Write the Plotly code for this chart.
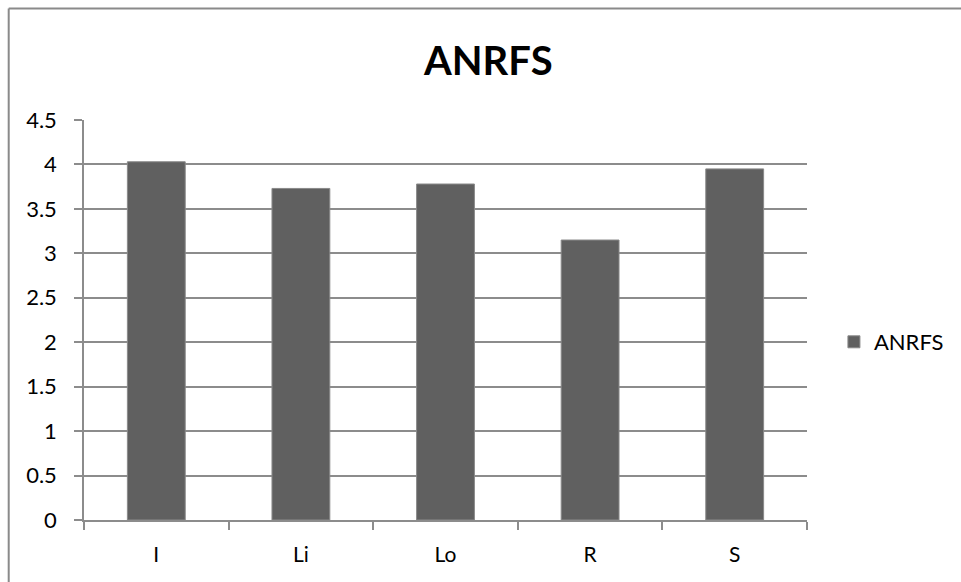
import plotly.graph_objects as go

categories = ["I", "Li", "Lo", "R", "S"]
values = [4.03, 3.73, 3.78, 3.15, 3.95]
series_name = "ANRFS"
title_text = "ANRFS"
y_ticks = [0, 0.5, 1, 1.5, 2, 2.5, 3, 3.5, 4, 4.5]
y_tick_labels = ["0", "0.5", "1", "1.5", "2", "2.5", "3", "3.5", "4", "4.5"]

W, H = 961, 582
L, R, T, B = 84, 152, 120, 62
pw, ph = W - L - R, H - T - B

def px_x(x):
    return (x - L) / pw

def px_y(y):
    return (H - B - y) / ph

FONT = "Lato"
GRID = "#8c8c8c"

fig = go.Figure()
fig.add_trace(go.Bar(
    x=categories, y=values, name=series_name,
    marker=dict(color="#606060", line=dict(color="#8a8a8a", width=1)),
    width=0.4,
))

fig.update_layout(
    width=W, height=H,
    margin=dict(l=L, r=R, t=T, b=B, pad=0),
    paper_bgcolor="white", plot_bgcolor="white",
    font=dict(family=FONT, size=21, color="black"),
    showlegend=True,
    legend=dict(x=px_x(836), y=px_y(342), xanchor="left", yanchor="middle",
                font=dict(size=22, family=FONT, color="black"),
                bgcolor="rgba(0,0,0,0)", itemwidth=30),
    xaxis=dict(
        showline=True, linecolor=GRID, linewidth=1.5,
        ticks="outside", ticklen=8, tickcolor=GRID, tickwidth=1.5,
        tickson="boundaries", showgrid=False,
        tickfont=dict(size=21, family=FONT, color="black"),
        ticklabelstandoff=15,
        range=[-0.5, 4.5],
    ),
    yaxis=dict(
        range=[0, 4.5], tickvals=y_ticks, ticktext=y_tick_labels,
        showline=True, linecolor=GRID, linewidth=1.5,
        ticks="outside", ticklen=8, tickcolor=GRID, tickwidth=1.5,
        showgrid=True, gridcolor=GRID, gridwidth=1.5,
        zeroline=False,
        tickfont=dict(size=22, family=FONT, color="black"),
        ticklabelstandoff=13,
    ),
    annotations=[dict(
        text="<b>" + title_text + "</b>", x=px_x(489), y=px_y(60),
        xref="paper", yref="paper",
        xanchor="center", yanchor="middle", showarrow=False,
        font=dict(size=40, family=FONT, color="black"),
    )],
    shapes=[
        dict(type="line", xref="paper", yref="paper",
             x0=px_x(8.5), x1=px_x(8.5), y0=px_y(8.5), y1=px_y(600),
             line=dict(color="#8a8a8a", width=2)),
        dict(type="line", xref="paper", yref="paper",
             x0=px_x(8.5), x1=px_x(980), y0=px_y(8.5), y1=px_y(8.5),
             line=dict(color="#8a8a8a", width=2)),
    ],
)

fig.write_html("out.html", config={"displayModeBar": False},
               post_script="document.body.style.margin='0';document.body.style.overflow='hidden';")
